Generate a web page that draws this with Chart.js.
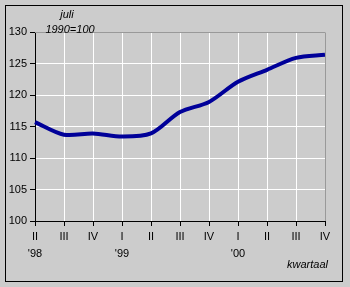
<!DOCTYPE html>
<html>
<head>
<meta charset="utf-8">
<script src="https://cdn.jsdelivr.net/npm/chart.js@4"></script>
<style>
  html, body { margin: 0; padding: 0; background: #cccccc; }
  #wrap { width: 350px; height: 287px; }
</style>
</head>
<body>
<div id="wrap"><canvas id="chart" width="350" height="287"></canvas></div>
<script>
const quarters = ['II', 'III', 'IV', 'I', 'II', 'III', 'IV', 'I', 'II', 'III', 'IV'];
const years = ["'98", '', '', "'99", '', '', '', "'00", '', '', ''];
const index = [115.7, 113.7, 113.9, 113.4, 113.9, 117.3, 118.9, 122.1, 124.0, 125.9, 126.4];
const yTicks = [100, 105, 110, 115, 120, 125, 130];

const font = 'Arial, "Liberation Sans", sans-serif';

const frame = {
    id: 'frame',
    beforeDraw(chart) {
        const c = chart.ctx;
        c.save();
        c.fillStyle = '#cccccc';
        c.fillRect(0, 0, chart.width, chart.height);
        c.restore();
    },
    afterDraw(chart) {
        const c = chart.ctx;
        const a = chart.chartArea;
        c.save();
        // grey top/right edge of plot area
        c.strokeStyle = '#999999';
        c.lineWidth = 1;
        c.beginPath();
        c.moveTo(a.left, a.top + 0.5);
        c.lineTo(a.right + 0.5, a.top + 0.5);
        c.lineTo(a.right + 0.5, a.bottom);
        c.stroke();
        // outer black frame
        c.strokeStyle = '#000000';
        c.strokeRect(5.5, 5.5, 337, 276);
        // texts
        c.fillStyle = '#000000';
        c.font = 'italic 11px ' + font;
        c.textAlign = 'center';
        c.textBaseline = 'middle';
        c.fillText('juli', 67, 15);
        c.fillText('1990=100', 70, 30);
        c.textAlign = 'right';
        c.fillText('kwartaal', 328, 265);
        c.restore();
    }
};

new Chart(document.getElementById('chart'), {
    type: 'line',
    data: {
        labels: quarters.map((q, i) => [q, years[i]]),
        datasets: [{
            data: index,
            borderColor: '#000099',
            borderWidth: 4,
            pointRadius: 0,
            tension: 0.3,
            fill: false
        }]
    },
    options: {
        responsive: false,
        animation: false,
        devicePixelRatio: 1,
        layout: { padding: { left: 0, right: 25, top: 32, bottom: 0 } },
        plugins: {
            legend: { display: false },
            tooltip: { enabled: false }
        },
        scales: {
            x: {
                offset: false,
                grid: {
                    color: '#ffffff',
                    lineWidth: 1,
                    tickColor: '#000000',
                    tickLength: 5
                },
                border: { color: '#000000', width: 1 },
                ticks: {
                    color: '#000000',
                    font: { family: font, size: 11, lineHeight: 1.5 },
                    padding: 3,
                    maxRotation: 0,
                    autoSkip: false
                },
                afterFit(scale) { scale.height = 66; }
            },
            y: {
                min: 100,
                max: 130,
                afterBuildTicks(scale) { scale.ticks = yTicks.map(v => ({ value: v })); },
                grid: {
                    color: '#ffffff',
                    lineWidth: 1,
                    tickColor: '#000000',
                    tickLength: 5
                },
                border: { color: '#000000', width: 1 },
                ticks: {
                    color: '#000000',
                    font: { family: font, size: 11 },
                    padding: 3
                },
                afterFit(scale) { scale.width = 35; }
            }
        }
    },
    plugins: [frame]
});
</script>
</body>
</html>
